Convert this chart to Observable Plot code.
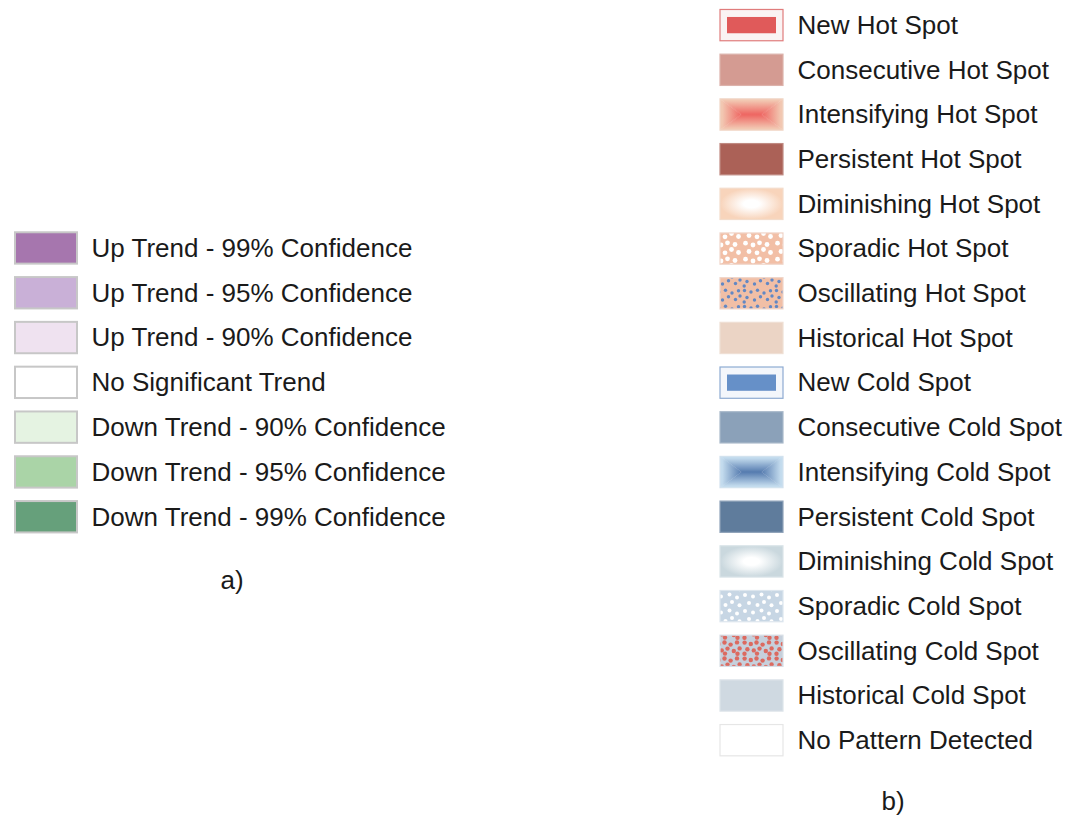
<!DOCTYPE html>
<html><head><meta charset="utf-8">
<script src="https://cdn.jsdelivr.net/npm/d3@7"></script>
<script src="https://cdn.jsdelivr.net/npm/@observablehq/plot@0.6"></script>
<style>
body{margin:0;background:#fff;}
#wrap{position:relative;width:1083px;height:816px;overflow:hidden;font-family:"Liberation Sans",Arial,sans-serif;}
.panel{position:absolute;top:0;}
.cap{position:absolute;font-size:26px;color:#1a1a1a;transform:translate(-50%,-50%);line-height:1;}
</style></head><body><div id="wrap"></div>
<script>
// ---- data ----
const trendLabels = [
  "Up Trend - 99% Confidence",
  "Up Trend - 95% Confidence",
  "Up Trend - 90% Confidence",
  "No Significant Trend",
  "Down Trend - 90% Confidence",
  "Down Trend - 95% Confidence",
  "Down Trend - 99% Confidence"
];
const trendFills = ["#a676ae", "#c9b0d7", "#efe2f0", "#ffffff", "#e5f3e2", "#aad4a7", "#66a07b"];

const hotspotLabels = [
  "New Hot Spot", "Consecutive Hot Spot", "Intensifying Hot Spot", "Persistent Hot Spot",
  "Diminishing Hot Spot", "Sporadic Hot Spot", "Oscillating Hot Spot", "Historical Hot Spot",
  "New Cold Spot", "Consecutive Cold Spot", "Intensifying Cold Spot", "Persistent Cold Spot",
  "Diminishing Cold Spot", "Sporadic Cold Spot", "Oscillating Cold Spot", "Historical Cold Spot",
  "No Pattern Detected"
];
const hotspotFills = [
  "#faf3f3", "#d49b92", "url(#intHot)", "#ab6157",
  "url(#dimHot)", "url(#spoHot)", "url(#oscHot)", "#ebd4c5",
  "#f3f6fb", "#8ba1b9", "url(#intCold)", "#5f7c9c",
  "url(#dimCold)", "url(#spoCold)", "url(#oscCold)", "#cfd9e1",
  "#ffffff"
];
const hotspotStrokes = [
  "#e07c7c", "#dcb2ab", "#f0d6c6", "#c08a82",
  "#f3dccb", "#f0d6ca", "#f0d6ca", "#efdfd4",
  "#8eabd2", "#a9b9ca", "#d2e2ee", "#8fa3ba",
  "#dae4e8", "#dde6ee", "#d8dfe7", "#dde4ea",
  "#e6e6e6"
];
const hotspotInner = [
  "#e05a5a", null, null, null, null, null, null, null,
  "#6690c8", null, null, null, null, null, null, null, null
];
const panelCaptions = ["a)", "b)"];

const trendRows = trendLabels.map((label, i) => ({label, fill: trendFills[i]}));
const hotRows = hotspotLabels.map((label, i) => ({label, fill: hotspotFills[i], stroke: hotspotStrokes[i], inner: hotspotInner[i]}));

const FONT = "'Liberation Sans', Arial, sans-serif";
const TEXT = "#1a1a1a";

// ---- pattern / gradient definitions (styling only) ----
function makeDefs() {
  const defs = d3.create("svg:defs");
  function boxPattern(id, edge, center) {
    const w = 0.34;
    const pat = defs.append("pattern").attr("id", id)
      .attr("patternUnits", "objectBoundingBox").attr("patternContentUnits", "objectBoundingBox")
      .attr("width", 1).attr("height", 1);
    const parts = [
      {pts: `0,0 1,0 ${1 - w},0.5 ${w},0.5`, x1: 0, y1: 0, x2: 0, y2: 1},
      {pts: `0,1 1,1 ${1 - w},0.5 ${w},0.5`, x1: 0, y1: 1, x2: 0, y2: 0},
      {pts: `0,0 ${w},0.5 0,1`, x1: 0, y1: 0, x2: 1, y2: 0},
      {pts: `1,0 ${1 - w},0.5 1,1`, x1: 1, y1: 0, x2: 0, y2: 0}
    ];
    parts.forEach((p, i) => {
      const g = defs.append("linearGradient").attr("id", `${id}-g${i}`)
        .attr("x1", p.x1).attr("y1", p.y1).attr("x2", p.x2).attr("y2", p.y2);
      g.append("stop").attr("offset", 0).attr("stop-color", edge);
      g.append("stop").attr("offset", 0.1).attr("stop-color", edge);
      g.append("stop").attr("offset", 1).attr("stop-color", center);
      pat.append("polygon").attr("points", p.pts).attr("fill", `url(#${id}-g${i})`)
        .attr("stroke", `url(#${id}-g${i})`).attr("stroke-width", 0.004);
    });
  }
  function radial(id, edge) {
    const g = defs.append("radialGradient").attr("id", id).attr("cx", 0.5).attr("cy", 0.5).attr("r", 0.62);
    g.append("stop").attr("offset", 0).attr("stop-color", "#ffffff");
    g.append("stop").attr("offset", 0.2).attr("stop-color", "#ffffff");
    g.append("stop").attr("offset", 0.8).attr("stop-color", edge);
    g.append("stop").attr("offset", 1).attr("stop-color", edge);
  }
  function dots(id, w, h, bg, color, r, pts) {
    const pat = defs.append("pattern").attr("id", id).attr("patternUnits", "userSpaceOnUse")
      .attr("width", w).attr("height", h);
    pat.append("rect").attr("width", w).attr("height", h).attr("fill", bg);
    pts.forEach(([x, y]) => pat.append("circle").attr("cx", x).attr("cy", y).attr("r", r).attr("fill", color));
  }
  boxPattern("intHot", "#f2c8b2", "#ee6561");
  boxPattern("intCold", "#c4dcee", "#557baf");
  radial("dimHot", "#f8d4bb");
  radial("dimCold", "#cad8de");
  dots("spoHot", 32, 16, "#f2bfa6", "#ffffff", 2.4,
    [[3.5, 3.2], [11, 5], [17.5, 2.8], [25, 4.5], [7, 11.5], [15, 12.8], [21.5, 9.5], [28.5, 12.5]]);
  dots("oscHot", 32, 16, "#f1bfa6", "#6288c4", 1.7,
    [[2.5, 2.5], [9, 4], [15.5, 2.2], [22, 5], [28.5, 2.8], [5, 9.5], [12.5, 12], [18.5, 8.8],
     [25.5, 11.5], [30, 8], [2.2, 14]]);
  dots("spoCold", 32, 16, "#c7d6e4", "#ffffff", 2,
    [[3, 3], [11, 4.5], [19.5, 2.6], [27, 5.5], [7, 11], [15.5, 13], [22, 10], [29.5, 13.2]]);
  dots("oscCold", 32, 16, "#c6d0dc", "#dc6a60", 2.2,
    [[2.6, 2.6], [8.8, 4], [14.5, 2.5], [20.6, 4.6], [27, 2.4], [5.4, 9.2], [11.8, 10.4],
     [17.5, 8.6], [23.8, 11], [29.6, 8.4], [2.5, 13.8], [15, 13.6], [27.5, 13.8]]);
  return defs.node();
}

// ---- left legend (a) ----
const left = Plot.plot({
  width: 460,
  height: 600,
  marginLeft: 91,
  marginRight: 0,
  marginTop: 227.8,
  marginBottom: 63.1,
  style: {fontFamily: FONT, background: "transparent"},
  x: {type: "band", domain: ["swatch"], range: [15, 77], padding: 0, round: false, axis: null},
  y: {type: "band", domain: trendLabels, paddingInner: 0.3, paddingOuter: 0.1, round: false, axis: null},
  color: {type: "identity"},
  marks: [
    makeDefs,
    Plot.cell(trendRows, {x: () => "swatch", y: "label", fill: "fill", stroke: "#c7c7c7", strokeWidth: 2, inset: 0}),
    Plot.text(trendRows, {y: "label", text: "label", frameAnchor: "left", textAnchor: "start", fontSize: 26, fill: TEXT})
  ]
});

// ---- right legend (b) ----
const right = Plot.plot({
  width: 373,
  height: 816,
  marginLeft: 87,
  marginRight: 0,
  marginTop: 5,
  marginBottom: 55.7,
  style: {fontFamily: FONT, background: "transparent"},
  x: {type: "band", domain: ["swatch"], range: [10, 73], padding: 0, round: false, axis: null},
  y: {type: "band", domain: hotspotLabels, paddingInner: 0.3, paddingOuter: 0.1, round: false, axis: null},
  color: {type: "identity"},
  marks: [
    Plot.cell(hotRows, {x: () => "swatch", y: "label", fill: "fill", stroke: "stroke", strokeWidth: 1.2, inset: 0}),
    Plot.cell(hotRows.filter(d => d.inner), {x: () => "swatch", y: "label", fill: "inner", insetLeft: 7, insetRight: 7, insetTop: 7.5, insetBottom: 7.5}),
    Plot.text(hotRows, {y: "label", text: "label", frameAnchor: "left", textAnchor: "start", fontSize: 26, fill: TEXT})
  ]
});

const wrap = document.getElementById("wrap");
left.classList.add("panel"); left.style.left = "0px";
right.classList.add("panel"); right.style.left = "710px";
wrap.appendChild(left);
wrap.appendChild(right);
const capPos = [[232, 580], [893, 801]];
panelCaptions.forEach((c, i) => {
  const d = document.createElement("div");
  d.className = "cap";
  d.textContent = c;
  d.style.left = capPos[i][0] + "px";
  d.style.top = capPos[i][1] + "px";
  wrap.appendChild(d);
});
</script></body></html>
